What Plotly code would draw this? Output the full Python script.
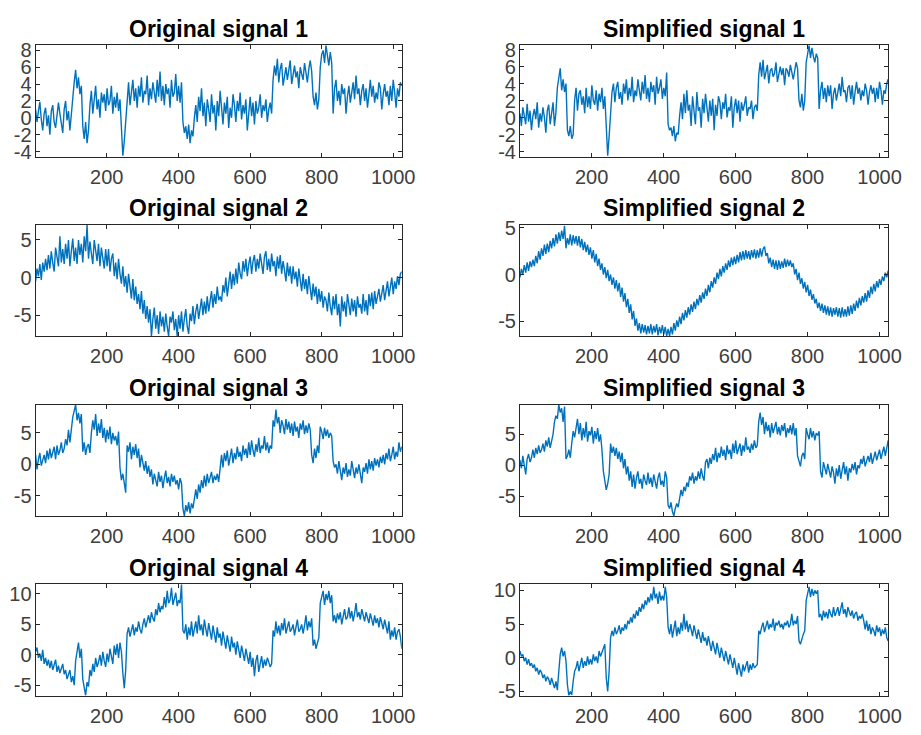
import numpy as np
import plotly.graph_objects as go

# ---- data: sample index 1..1024 (one value every ~4 samples) ----
x_ticks = [200, 400, 600, 800, 1000]

orig1 = [1.0, -0.5, 0.8, 1.9, -0.2, -1.5, 0.5, 1.2, -1.0, 0.3,
         -2.0, 0.8, 1.5, -0.5, -1.2, 0.2, 1.8, 0.5, -0.8, -1.8,
         1.0, 2.0, -0.3, 0.8, -1.5, 0.5,
         3.0, 4.2, 5.7, 3.5, 4.8, 2.8, 3.8,
         -1.0, -2.5, -0.5, -3.0, -1.5,
         1.5, 3.2, 0.5, 2.5, 3.8, 1.0, 2.2, 0.0, 3.0, 1.8,
         2.8, 0.8, 3.5, 1.5, 2.0, 3.8, 0.5, 2.5, 1.2, 3.0, 0.8, 2.2,
         -2.0, -4.5, -2.8, -0.5,
         2.5, 4.2, 1.5, 3.0, 4.5, 2.0, 3.5, 1.2, 3.8, 2.5,
         4.8, 1.8, 3.2, 2.8, 5.0, 1.5, 3.5, 2.2, 4.2, 3.0,
         1.8, 4.5, 2.5, 5.5, 2.0, 3.8, 1.5, 4.0, 2.8, 3.5,
         1.2, 4.5, 2.5, 3.0, 5.2, 2.0, 3.8, 1.8, 4.2,
         -0.5, -1.8, -1.0, -2.5, -0.8, -3.0, -1.5, -2.2, 0.0,
         1.5, -0.5, 2.5, 0.8, 3.5, 0.2, 1.8, -1.0, 2.2, 1.0,
         -0.5, 2.8, 0.5, 1.5, -1.5, 2.0, 0.2, 3.2, 1.0, -0.8,
         1.8, 0.5, 2.5, -1.2, 1.2, 0.0, 2.8, 1.5, -0.5, 2.0,
         0.8, 3.0, -0.2, 1.5, 0.5, 2.2, -1.5, 1.0, 2.5, 0.2,
         1.8, -0.8, 2.0, 0.5, 1.2, 2.8, 0.0, 1.5, 0.8, 2.2,
         -0.5, 1.0, 1.8, 0.5,
         4.5, 6.2, 5.0, 7.0, 4.2, 5.8, 6.5, 3.8, 5.2, 6.0,
         4.5, 5.5, 6.8, 4.0, 5.0, 6.2, 4.8, 5.5, 3.5, 6.0,
         5.2, 4.5, 6.5, 5.0, 4.2, 5.8, 6.8, 5.5,
         2.5, 1.5, 3.0, 1.0, 2.2,
         6.0, 7.5, 8.0, 6.5, 8.6, 7.0, 6.2, 7.8, 6.5,
         0.5,
         3.5, 4.5, 2.0, 3.2, 1.5, 4.0, 2.8, 3.5, 0.5, 2.5,
         3.8, 1.8, 3.0, 4.2, 2.2, 5.0, 2.8, 3.5, 1.5, 3.2,
         4.0, 2.0, 3.5, 1.2, 2.8, 4.5, 2.5, 3.8, 1.8, 3.0,
         2.2, 4.2, 3.5, 1.0, 2.8, 4.0, 2.5, 3.2, 1.5, 3.8,
         2.0, 4.5, 3.0, 1.2, 3.5, 2.5, 4.2, 3.8]

simp1 = [0.5, -1.0, 1.2, 0.2, -0.8, 1.6, -0.5, 0.8, -1.5, 0.2,
         1.0, -0.2, 1.8, -1.2, 0.5, -0.5, 1.2, 0.0, -1.8, 0.8,
         1.5, -0.8, 0.3, 1.8, -1.0, 0.6,
         3.5, 5.0, 5.8, 3.2, 4.5, 3.0, 4.0,
         -1.5, -2.2, -1.0, -2.5, -2.0,
         2.0, 3.5, 0.8, 2.8, 3.2, 1.5, 2.5, 0.5, 3.5, 1.2,
         2.5, 1.0, 3.8, 2.0, 1.5, 3.2, 0.8, 2.8, 1.8, 3.5, 1.0, 2.5,
         -1.5, -4.5, -2.2, 0.5,
         3.0, 4.0, 1.8, 3.5, 4.2, 2.2, 3.0, 1.5, 4.0, 2.8,
         4.5, 2.0, 3.5, 2.5, 4.8, 1.8, 3.2, 2.5, 4.5, 3.2,
         2.0, 4.2, 2.8, 5.0, 2.2, 3.5, 1.8, 4.2, 3.0, 3.8,
         1.5, 4.8, 2.8, 3.5, 4.5, 2.2, 3.5, 2.5, 5.3,
         -0.8, -1.5, -1.2, -2.2, -1.0, -2.8, -1.8, -2.0, 0.2,
         1.8, -0.2, 2.8, 0.5, 3.2, 0.8, 1.5, -1.0, 2.5, 0.8,
         -0.8, 3.0, 0.8, 1.2, -1.2, 2.2, 0.5, 2.8, 1.2, -0.5,
         2.0, 0.2, 2.2, -1.5, 1.5, 0.2, 2.5, 1.8, -0.2, 1.8,
         1.0, 2.8, 0.0, 1.2, 0.8, 2.5, -1.2, 1.2, 2.2, 0.5,
         2.0, -0.5, 1.8, 0.8, 1.5, 2.5, 0.2, 1.2, 1.0, 2.0,
         -0.2, 1.2, 1.5, 0.8,
         5.0, 6.5, 4.8, 6.8, 4.5, 5.5, 6.2, 4.0, 5.5, 5.8,
         4.8, 5.2, 6.5, 4.2, 5.2, 6.0, 5.0, 5.8, 3.8, 5.8,
         5.5, 4.8, 6.2, 5.2, 4.5, 5.5, 6.5, 5.8,
         2.0, 1.2, 2.8, 0.8, 2.0,
         6.5, 7.5, 8.5, 7.0, 8.2, 7.2, 6.5, 7.5, 7.0,
         1.0,
         3.2, 4.2, 2.2, 3.5, 1.8, 3.8, 2.5, 3.8, 1.0, 2.8,
         3.5, 2.0, 3.2, 4.0, 2.5, 4.8, 3.0, 3.2, 1.8, 3.5,
         3.8, 2.2, 3.8, 1.5, 3.0, 4.2, 2.8, 3.5, 2.0, 3.2,
         2.5, 4.0, 3.2, 1.5, 3.0, 3.8, 2.8, 3.5, 1.8, 3.5,
         2.2, 4.2, 3.2, 1.5, 3.2, 2.8, 4.0, 4.5]

orig2 = [-0.5, 1.2, 0.2, 1.8, -0.3, 2.0, 0.8, 2.5, 1.0, 3.0,
         1.2, 3.5, 2.0, 0.8, 4.0, 2.5, 1.5, 5.5, 2.0, 3.8,
         1.8, 4.5, 2.5, 5.0, 1.5, 3.5, 5.2, 2.2, 4.0, 1.8,
         5.0, 3.0, 4.5, 2.0, 5.5, 3.5, 7.0, 2.5, 4.8, 3.2,
         1.8, 5.0, 3.5, 2.2, 4.5, 1.5, 4.0, 2.8, 1.2, 3.8,
         1.5, 3.8, 0.8, 2.5, 3.2, 0.2, 2.0, -0.2, 2.5, 0.5,
         -0.8, 1.5, -1.2, 0.2, -2.0, 0.5, -1.5, -2.8, -0.2, -3.0,
         -1.2, -3.5, -2.2, -4.2, -1.8, -4.8, -3.0, -5.5, -3.8, -6.0,
         -4.2, -7.8, -5.5, -4.0, -6.8, -5.0, -7.5, -4.5, -6.5, -5.2,
         -7.2, -4.8, -6.5, -7.8, -5.2, -6.0, -4.5, -7.0, -5.5, -7.8,
         -5.0, -6.8, -4.5, -7.2, -5.5, -4.2, -6.5, -7.5, -4.8, -5.8,
         -3.8, -6.2, -4.5, -3.5, -5.5, -4.0, -2.8, -5.0, -3.2, -4.8,
         -2.5, -4.5, -3.0, -1.8, -4.0, -2.2, -3.5, -1.2, -3.0, -2.5,
         -3.2, -1.0, -2.0, 0.0, -2.5, -0.5, 0.8, -1.5, 0.5, -1.0,
         1.2, -0.8, 2.0, 0.5, -0.2, 2.2, 0.8, 2.5, 0.2, 1.8,
         2.8, 0.5, 2.2, 3.0, 0.8, 2.5, 1.2, 3.2, 1.5, 0.5,
         2.8, 3.5, 1.0, 2.5, 0.8, 3.2, 1.5, 2.2, 0.2, 2.8,
         1.2, 3.0, 0.5, 2.2, 1.0, -0.5, 2.0, 0.2, 1.5, -0.8,
         1.5, -0.2, 0.8, -1.2, 1.2, -0.5, -1.8, 0.5, -1.5, -0.2,
         -2.2, 0.2, -1.5, -3.0, -0.8, -2.5, -1.2, -3.5, -1.5, -3.2,
         -1.8, -4.0, -2.5, -3.0, -4.5, -2.0, -3.8, -5.0, -2.5, -4.2,
         -2.2, -5.0, -3.5, -6.5, -2.5, -4.5, -3.2, -5.2, -2.2, -4.0,
         -5.0, -2.8, -4.5, -3.0, -5.2, -2.5, -4.0, -3.5, -4.8, -2.2,
         -4.5, -3.0, -5.0, -2.2, -3.8, -2.0, -4.2, -1.8, -3.5, -2.5,
         -1.5, -3.2, -2.0, -1.0, -3.0, -1.5, -0.5, -2.5, -1.2, 0.0,
         -2.2, -0.5, -1.5, 0.2, -1.0, 0.5, 0.8]

simp2 = [-0.3, 0.6, 0.0, 1.0, 0.2, 1.3, 0.4, 1.4, 0.8, 1.6,
         0.9, 2.0, 1.2, 2.5, 1.6, 2.8, 2.0, 3.2, 2.2, 3.3,
         2.4, 3.6, 2.8, 3.9, 3.0, 4.3, 3.3, 4.5, 3.6, 4.7,
         3.8, 5.2, 2.8, 3.9, 3.2, 4.3, 3.1, 4.2, 3.3, 4.1,
         3.1, 4.1, 2.9, 3.8, 2.6, 3.5, 2.4, 3.2, 2.1, 2.9,
         1.7, 2.6, 1.3, 2.2, 0.9, 1.7, 0.5, 1.2, 0.0, 0.8,
         -0.4, 0.5, -0.7, 0.0, -1.1, -0.3, -1.5, -0.6, -1.8, -0.9,
         -2.4, -1.4, -2.9, -2.0, -3.5, -2.6, -4.1, -3.2, -4.8, -3.9,
         -5.5, -4.7, -6.0, -5.2, -6.3, -5.3, -6.2, -5.4, -6.4, -5.5,
         -6.3, -5.3, -6.4, -5.5, -6.2, -5.3, -6.5, -5.6, -6.3, -5.4,
         -6.4, -5.6, -6.6, -5.8, -6.6, -5.6, -6.4, -5.2, -6.0, -4.9,
         -5.6, -4.5, -5.3, -4.1, -4.9, -3.8, -4.6, -3.5, -4.3, -3.2,
         -4.0, -2.9, -3.7, -2.6, -3.3, -2.2, -3.0, -1.9, -2.6, -1.5,
         -2.3, -1.1, -1.9, -0.7, -1.4, -0.3, -1.0, 0.2, -0.5, 0.6,
         -0.2, 0.9, 0.2, 1.2, 0.5, 1.5, 0.8, 1.8, 1.0, 1.9,
         1.1, 2.1, 1.3, 2.4, 1.5, 2.5, 1.6, 2.6, 1.7, 2.5,
         1.6, 2.6, 1.8, 2.7, 1.7, 2.6, 1.8, 2.8, 1.9, 2.7,
         3.0, 2.0, 2.3, 1.2, 1.8, 0.8, 1.6, 0.6, 1.5, 0.5,
         1.5, 0.6, 1.4, 0.7, 1.7, 0.8, 1.6, 0.9, 1.5, 0.8,
         1.2, 0.0, 0.6, -0.6, 0.2, -1.0, -0.4, -1.5, -0.8, -1.9,
         -1.1, -2.3, -1.6, -2.7, -2.1, -3.1, -2.6, -3.6, -3.0, -3.9,
         -3.1, -4.1, -3.3, -4.3, -3.4, -4.4, -3.5, -4.5, -3.6, -4.3,
         -3.5, -4.5, -3.6, -4.6, -3.5, -4.5, -3.7, -4.5, -3.4, -4.4,
         -3.3, -4.2, -3.1, -3.9, -2.8, -3.6, -2.5, -3.3, -2.3, -3.0,
         -2.0, -2.9, -1.7, -2.5, -1.3, -2.1, -1.0, -1.8, -0.7, -1.4,
         -0.5, -1.1, -0.2, -0.7, 0.2, -0.3, 0.4]

orig3 = [1.5, -0.8, 0.8, 1.8, -0.2, 0.5, 1.5, 0.2, 2.2, 0.8,
         2.5, 1.0, 1.8, 2.8, 0.8, 3.0, 1.5, 2.2, 3.5, 1.8,
         2.5, 4.0, 3.0, 5.5, 3.5, 6.0, 7.5, 8.5, 9.5, 7.0,
         8.2, 6.5, 8.0, 2.0, 3.5, 1.5, 2.8, 3.2, 1.8, 5.0,
         7.0, 5.5, 8.0, 4.5, 6.5, 5.0, 7.2, 4.2, 5.8, 3.5,
         5.5, 4.0, 6.0, 3.2, 5.0, 3.8, 4.5, 3.0, 5.2, -0.5,
         -2.5, -1.5, -3.5, -4.5, 3.0, 2.0, 3.5, 0.8, 2.8, 1.5,
         3.2, 1.0, 2.5, -0.5, 1.5, 0.2, -1.0, 0.5, -1.5, -0.2,
         -2.0, -0.8, -3.2, -1.5, -2.5, -3.5, -1.2, -2.8, -1.8, -3.8,
         -2.2, -1.0, -3.0, -2.0, -3.5, -1.5, -2.8, -1.8, -3.2, -2.5,
         -4.0, -2.2, -3.0, -7.0, -8.2, -6.5, -7.5, -6.0, -7.8, -6.2,
         -7.0, -5.0, -4.0, -5.5, -3.2, -4.5, -2.5, -3.8, -1.8, -3.5,
         -1.5, -3.0, -2.2, -1.2, -3.0, -1.8, -2.5, -1.5, -2.8, -1.0,
         1.5, -0.5, 1.8, 0.5, 2.2, -0.2, 1.0, 2.5, 0.2, 1.8,
         0.8, 2.8, 1.2, 2.0, 0.5, 3.0, 1.5, 2.5, 1.0, 3.5,
         1.5, 3.8, 2.2, 1.2, 3.2, 2.0, 4.2, 1.8, 3.0, 2.5,
         4.5, 2.2, 3.5, 1.8, 3.0, 2.5, 7.0, 6.0, 8.7, 6.5,
         7.5, 5.0, 7.0, 6.2, 4.8, 7.2, 5.5, 6.8, 5.0, 6.5,
         4.5, 6.8, 5.2, 6.0, 4.2, 6.5, 5.5, 7.0, 4.8, 6.2,
         5.0, 6.5, 5.5, 1.5, 0.2, 2.5, 1.0, 3.0, 1.8, 6.0,
         5.2, 4.0, 5.8, 4.5, 5.5, 4.2, 5.0, 4.5, 0.5, -0.5,
         0.0, -1.5, 0.5, -1.0, -2.5, -0.5, -1.5, 0.2, -2.0, -0.8,
         -1.8, 0.5, -1.2, -2.2, -0.5, -1.5, 0.0, -1.8, -3.0, -0.5,
         -1.2, 0.2, -1.5, 0.8, -0.8, 0.5, -1.0, 1.0, -0.2, 0.8,
         -0.5, 1.2, 0.2, 1.5, 0.0, 1.8, 0.8, 2.5, 0.5, 1.5,
         2.8, 0.8, 2.0, 1.2, 3.5, 2.0, 2.8]

simp3 = [0.8, -0.5, 1.5, 0.2, -1.5, 1.0, 1.8, 0.5, 1.2, 2.5,
         1.2, 2.8, 1.8, 3.2, 2.0, 2.5, 3.5, 2.2, 4.0, 3.0,
         4.5, 2.8, 3.8, 5.0, 7.0, 8.0, 7.5, 9.8, 8.5, 9.2,
         7.0, 9.5, 1.0, 1.5, 2.5, 1.2, 3.5, 5.5, 4.5, 6.5,
         7.5, 5.0, 6.8, 4.0, 6.0, 4.5, 7.0, 3.8, 5.5, 4.8,
         6.2, 3.5, 5.5, 4.2, 6.0, 3.8, 5.0, 2.5, -1.0, -2.5,
         -4.0, -3.0, -1.5, 3.5, 2.0, 3.0, 1.5, 2.8, 1.0, 2.2,
         0.5, 2.0, -0.5, 1.0, -1.5, -0.2, -2.5, -1.0, -3.5, -1.5,
         -3.8, -2.0, -1.0, -3.0, -2.2, -3.8, -1.5, -2.5, -3.2, -1.2,
         -3.0, -2.0, -3.5, -1.5, -2.8, -3.8, -2.0, -1.2, -3.2, -2.5,
         -3.5, -1.0, -2.0, -6.5, -7.0, -6.0, -7.5, -8.2, -7.0, -6.2,
         -6.8, -5.5, -4.0, -5.0, -3.5, -4.2, -2.8, -3.5, -1.8, -2.5,
         -1.2, -3.0, -1.8, -2.5, -1.0, -2.2, -0.5, -1.8, -2.5, 0.5,
         1.0, -0.5, 1.2, 0.2, 1.8, 0.8, 2.8, 0.5, 2.0, 1.2,
         3.0, 1.5, 2.5, 0.8, 3.2, 1.8, 2.5, 1.0, 3.5, 2.0,
         4.0, 1.8, 2.8, 3.5, 1.5, 3.2, 2.2, 4.5, 2.5, 3.0,
         2.0, 3.5, 2.5, 4.0, 2.8, 3.2, 7.0, 8.5, 6.5, 7.8,
         5.0, 7.0, 5.5, 6.5, 4.5, 6.8, 5.2, 6.0, 7.0, 5.0,
         6.2, 4.8, 6.5, 5.5, 6.8, 4.5, 6.0, 5.2, 6.5, 5.0,
         6.8, 4.8, 6.0, 1.5, 0.8, -0.2, 1.5, 2.0, 1.0, 6.0,
         5.0, 4.2, 6.0, 4.5, 5.5, 4.0, 5.2, 4.8, 5.5, -1.0,
         -2.0, 0.5, -0.5, -1.5, 0.2, -1.0, -2.0, -0.2, -1.2, -3.0,
         -0.5, -1.8, 0.0, -2.2, -0.8, 0.5, -1.5, -0.2, -2.5, -0.5,
         -1.2, 0.2, -0.8, 0.5, -1.5, 0.0, -0.5, 1.0, 0.2, 1.5,
         -0.2, 0.8, 1.5, 0.5, 2.0, 0.2, 1.2, 2.2, 0.8, 1.8,
         2.5, 1.0, 2.2, 3.0, 1.5, 2.8, 4.0]

orig4 = [0.5, 1.2, -0.5, 0.2, -1.0, 0.8, -1.5, -0.5, -1.8, -0.8,
         -2.2, -1.0, -2.5, -1.5, -0.8, -2.8, -1.8, -3.0, -2.2, -1.5,
         -3.2, -2.5, -4.0, -3.0, -2.5, -4.5, -3.5, -5.0, -1.0, 0.5,
         2.0, -0.5, 1.0, -4.0, -5.5, -6.7, -4.5, -5.2, -2.5, -3.5,
         -1.5, -2.8, -0.5, -2.0, -1.2, 0.0, -1.8, 0.5, -1.0, -2.0,
         0.2, -1.2, 1.0, -0.5, -1.5, 1.5, 0.0, 1.8, -0.5, 2.0,
         0.5, -3.0, -5.5, -2.5, 3.5, 4.5, 3.0, 4.0, 5.0, 3.2,
         4.5, 3.8, 5.5, 4.2, 3.5, 5.0, 6.0, 4.5, 5.5, 6.5,
         5.2, 7.0, 6.0, 5.5, 7.5, 6.5, 8.5, 7.0, 8.0, 7.5,
         9.5, 7.8, 10.5, 8.5, 9.0, 11.0, 8.2, 9.5, 10.2, 8.0,
         9.0, 8.5, 11.6, 4.0, 3.5, 5.0, 2.5, 4.5, 3.2, 5.5,
         3.0, 4.2, 5.5, 3.5, 6.5, 4.0, 5.0, 3.2, 5.8, 4.2,
         3.0, 5.2, 3.8, 2.5, 4.8, 3.5, 2.0, 4.5, 2.8, 3.5,
         1.5, 3.8, 2.5, 1.0, 3.2, 1.8, 0.5, 3.0, 1.2, 2.0,
         0.0, 2.2, 0.8, -0.5, 1.5, 0.2, -1.0, 1.0, -0.2, -1.5,
         0.5, -2.0, -0.5, -3.5, -1.0, 0.0, -2.8, -1.2, -0.2, -2.2,
         -0.8, -1.8, -0.5, -1.2, -2.0, -1.5, 4.0, 3.0, 5.5, 3.5,
         4.8, 3.2, 5.2, 4.0, 6.0, 3.5, 4.5, 5.5, 3.8, 4.2,
         5.0, 3.2, 4.5, 5.8, 3.8, 4.2, 5.0, 3.5, 4.8, 6.5,
         4.0, 5.5, 4.5, 6.0, 1.5, 2.5, 1.0, 2.2, 2.8, 8.5,
         9.5, 10.5, 8.2, 10.0, 9.0, 10.5, 8.5, 9.8, 5.5, 6.5,
         5.2, 6.8, 5.8, 7.0, 5.0, 6.5, 7.5, 5.8, 6.2, 7.8,
         6.0, 7.2, 5.5, 6.8, 8.5, 6.2, 7.0, 5.8, 7.5, 6.5,
         5.5, 7.0, 6.0, 5.2, 6.8, 5.5, 4.8, 6.5, 5.2, 6.0,
         4.5, 6.2, 5.0, 4.2, 5.8, 4.8, 3.5, 5.5, 2.5, 4.0,
         3.0, 4.5, 2.5, 3.8, 4.2, 3.0, 1.0]

simp4 = [1.0, 0.2, 0.5, -0.5, 0.0, -1.0, -0.2, -1.2, -0.8, -1.5,
         -1.0, -2.0, -1.5, -2.5, -1.8, -2.2, -3.0, -2.5, -3.5, -2.8,
         -3.2, -4.0, -3.0, -3.8, -4.5, -3.5, -4.8, -2.0, 0.5, 1.5,
         0.2, 1.0, -0.5, -4.0, -5.6, -5.0, -5.5, -3.5, -2.0, -1.5,
         -0.5, -2.0, -1.0, 0.0, -1.5, -0.5, -1.2, 0.2, -1.0, -0.2,
         -1.0, 0.5, -0.5, 0.2, -0.8, 1.0, 0.2, 0.8, 1.5, 2.0,
         -3.0, -5.0, -2.0, 3.0, 4.0, 3.2, 4.5, 3.5, 4.0, 4.8,
         3.5, 4.5, 4.0, 5.0, 4.2, 5.5, 5.0, 6.0, 5.2, 6.5,
         5.8, 7.0, 6.2, 7.5, 6.8, 8.0, 7.2, 8.5, 7.8, 9.0,
         8.2, 9.5, 8.5, 10.5, 8.8, 9.5, 8.0, 9.8, 8.5, 9.2,
         8.5, 10.5, 9.0, 4.5, 3.5, 5.0, 3.0, 4.2, 5.5, 3.2,
         4.5, 3.5, 5.2, 4.0, 6.5, 4.2, 5.5, 3.8, 5.0, 4.2,
         3.2, 4.8, 3.5, 2.8, 4.2, 3.0, 2.2, 3.8, 2.5, 3.0,
         1.8, 3.2, 2.0, 1.0, 2.5, 1.5, 0.5, 2.2, 1.0, 0.0,
         1.5, 0.2, -0.5, 1.0, 0.0, -1.0, 0.5, -0.8, -1.5, 0.0,
         -1.2, -2.5, -0.8, -1.8, -2.8, -1.0, -2.0, -1.2, -0.5, -2.2,
         -1.0, -1.8, -0.8, -1.5, -1.2, -1.0, 4.0, 3.5, 4.5, 5.2,
         3.8, 4.8, 5.5, 4.2, 5.0, 4.5, 5.8, 4.0, 5.2, 4.8,
         5.5, 4.5, 5.0, 4.2, 5.2, 4.8, 5.5, 4.5, 5.0, 6.5,
         4.8, 5.5, 5.0, 6.2, 2.5, 2.0, 3.0, 3.5, 4.0, 8.5,
         9.5, 10.5, 9.0, 10.2, 9.2, 10.0, 9.5, 10.0, 6.0, 6.5,
         5.5, 7.0, 6.0, 6.8, 5.8, 7.2, 6.5, 6.0, 7.5, 6.2,
         6.8, 7.5, 6.2, 7.0, 8.2, 6.5, 7.2, 6.0, 7.5, 6.8,
         6.2, 7.0, 5.8, 6.5, 6.8, 5.5, 6.2, 5.8, 6.5, 5.5,
         4.2, 5.5, 4.0, 5.0, 3.5, 4.5, 4.0, 3.2, 4.8, 3.8,
         4.5, 3.2, 4.2, 3.5, 4.5, 3.0, 2.5]

titles = ["Original signal 1", "Simplified signal 1",
          "Original signal 2", "Simplified signal 2",
          "Original signal 3", "Simplified signal 3",
          "Original signal 4", "Simplified signal 4"]
series = [orig1, simp1, orig2, simp2, orig3, simp3, orig4, simp4]
y_ranges = [[-4.6, 8.6], [-4.6, 8.5],
            [-7.8, 7.0], [-6.6, 5.3],
            [-8.2, 9.5], [-8.2, 9.8],
            [-6.7, 11.6], [-5.6, 10.9]]
y_ticks = [[-4, -2, 0, 2, 4, 6, 8], [-4, -2, 0, 2, 4, 6, 8],
           [-5, 0, 5], [-5, 0, 5],
           [-5, 0, 5], [-5, 0, 5],
           [-5, 0, 5, 10], [-5, 0, 5, 10]]

# ---- layout geometry ----
# The page body keeps its default 8px margin, so the figure is sized to fill the
# 921x735 window exactly (921-16 by 735-16); pixel positions below are figure pixels.
W, H = 905, 719
col_px = [(28, 400), (520, 894)]
row_px = [(30, 144), (214, 328), (398, 512), (582, 696)]

AX = "#262626"
FONT = "Liberation Sans, Arial, Helvetica, sans-serif"

fig = go.Figure()
layout = dict(width=W, height=H, margin=dict(l=0, r=0, t=0, b=0),
              paper_bgcolor="white", plot_bgcolor="white", showlegend=False,
              annotations=[])

for i, (vals, title) in enumerate(zip(series, titles)):
    n = i + 1
    r, c = divmod(i, 2)
    xs = np.linspace(1, 1024, len(vals))
    xa = "x" if n == 1 else f"x{n}"
    ya = "y" if n == 1 else f"y{n}"
    fig.add_trace(go.Scatter(x=xs, y=vals, mode="lines",
                             line=dict(color="#0072BD", width=1.4),
                             xaxis=xa, yaxis=ya, hoverinfo="skip"))
    x0, x1 = col_px[c]
    t0, t1 = row_px[r]
    common = dict(showline=True, linecolor=AX, linewidth=1, mirror="allticks",
                  ticks="inside", ticklen=4, tickcolor=AX, tickwidth=1,
                  showgrid=False, zeroline=False,
                  tickfont=dict(family=FONT, size=20, color="#404040"))
    layout[f"xaxis{n}"] = dict(domain=[x0 / W, x1 / W], anchor=ya,
                               range=[1, 1024], tickvals=x_ticks,
                               ticktext=[str(v) for v in x_ticks],
                               ticklabelstandoff=2, **common)
    layout[f"yaxis{n}"] = dict(domain=[1 - t1 / H, 1 - t0 / H], anchor=xa,
                               range=y_ranges[i], tickvals=y_ticks[i],
                               ticktext=[str(v) for v in y_ticks[i]],
                               ticklabelstandoff=-1, **common)
    layout["annotations"].append(dict(
        text=f"<b>{title}</b>", xref="paper", yref="paper",
        x=(x0 + x1) / 2 / W, y=1 - (t0 - 17) / H,
        xanchor="center", yanchor="middle", showarrow=False,
        font=dict(family=FONT, size=23, color="#000000")))

fig.update_layout(**layout)
fig.write_html("out.html", config={"displayModeBar": False})
